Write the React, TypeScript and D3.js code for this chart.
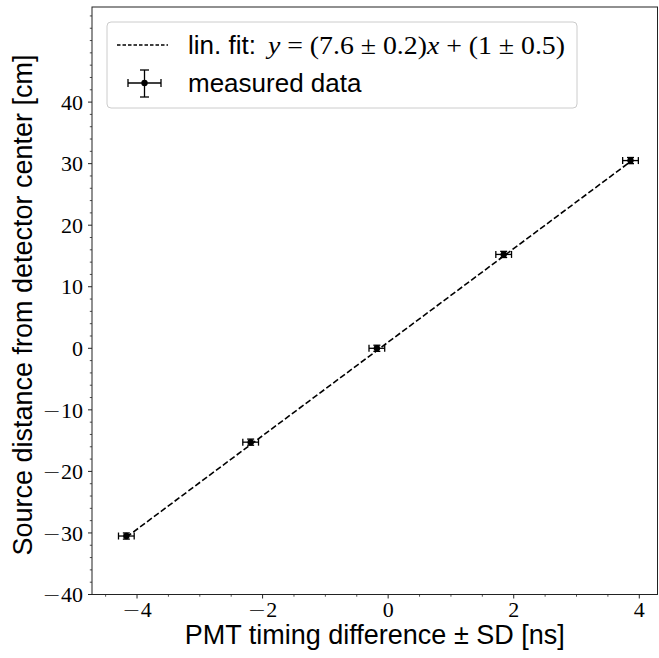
import React from "react";
import * as d3 from "d3";

// ---- data ----
const xValues = [-4.17, -2.19, -0.18, 1.84, 3.86];
const yValues = [-30.5, -15.25, 0, 15.25, 30.5];
const xErrors = [0.125, 0.125, 0.125, 0.125, 0.125];
const yErrors = [0.5, 0.5, 0.5, 0.5, 0.5];
const fitSlope = 7.6;
const fitIntercept = 1;
const xTicks = [-4, -2, 0, 2, 4];
const yTicks = [-40, -30, -20, -10, 0, 10, 20, 30, 40];
const xDomain = [-4.717, 4.29];
const yDomain = [-40, 55.45];
const xLabel = "PMT timing difference \u00b1 SD [ns]";
const yLabel = "Source distance from detector center [cm]";
const fitLabel = "lin. fit:";
const dataLabel = "measured data";

const W = 659;
const H = 658;
const M = { left: 92, right: 657.5, top: 7, bottom: 594.5 };

export default function App() {
  const x = d3.scaleLinear().domain(xDomain).range([M.left, M.right]);
  const y = d3.scaleLinear().domain(yDomain).range([M.bottom, M.top]);
  const xMinor = d3.range(-4.5, 4.3, 0.5).filter((v) => !xTicks.includes(v));
  const yMinor = d3.range(-40, 55.4, 2).filter((v) => !yTicks.includes(v));

  const xMin = d3.min(xValues)!;
  const xMax = d3.max(xValues)!;
  const line = d3
    .line<number>()
    .x((d) => x(d))
    .y((d) => y(fitSlope * d + fitIntercept));

  const tickFont = "'Liberation Serif', 'DejaVu Serif', serif";
  const sans = "'Liberation Sans', Arial, sans-serif";
  const ink = "#000";
  const cap = 3.5;

  const tickLabel = (v: number) =>
    v < 0 ? (
      <>
        <tspan fontFamily="'DejaVu Sans', sans-serif" fontWeight={300}>
          {"\u2212"}
        </tspan>
        <tspan>{String(Math.abs(v))}</tspan>
      </>
    ) : (
      String(v)
    );

  const legX = 107;
  const legY = 22;

  return (
    <svg
      width={W}
      height={H}
      style={{ position: "absolute", left: 0, top: 0, background: "#fff" }}
    >
      <rect x={0} y={0} width={W} height={H} fill="#fff" />

      {/* fit line */}
      <path
        d={line([xMin, xMax]) || ""}
        fill="none"
        stroke={ink}
        strokeWidth={1.6}
        strokeDasharray="6,2.6"
      />

      {/* error bars & points */}
      {xValues.map((xv, i) => {
        const yv = yValues[i];
        const cx = x(xv);
        const cy = y(yv);
        const x0 = x(xv - xErrors[i]);
        const x1 = x(xv + xErrors[i]);
        const y0 = y(yv - yErrors[i]);
        const y1 = y(yv + yErrors[i]);
        return (
          <g key={i} stroke={ink} strokeWidth={1.3}>
            <line x1={x0} x2={x1} y1={cy} y2={cy} />
            <line x1={x0} x2={x0} y1={cy - cap} y2={cy + cap} />
            <line x1={x1} x2={x1} y1={cy - cap} y2={cy + cap} />
            <line x1={cx} x2={cx} y1={y0} y2={y1} />
            <line x1={cx - cap} x2={cx + cap} y1={y0} y2={y0} />
            <line x1={cx - cap} x2={cx + cap} y1={y1} y2={y1} />
            <circle cx={cx} cy={cy} r={3.2} fill={ink} stroke="none" />
          </g>
        );
      })}

      {/* spines */}
      <rect
        x={M.left}
        y={M.top}
        width={M.right - M.left}
        height={M.bottom - M.top}
        fill="none"
        stroke="#222"
        strokeWidth={1}
      />

      {/* x ticks */}
      {xTicks.map((t) => (
        <g key={"xt" + t}>
          <line x1={x(t)} x2={x(t)} y1={M.bottom} y2={M.bottom + 4} stroke="#222" strokeWidth={1} />
          <text
            x={x(t)}
            y={617}
            textAnchor="middle"
            fontFamily={tickFont}
            fontSize={22}
            fill={ink}
          >
            {tickLabel(t)}
          </text>
        </g>
      ))}
      {xMinor.map((t) => (
        <line key={"xm" + t} x1={x(t)} x2={x(t)} y1={M.bottom} y2={M.bottom + 2.2} stroke="#222" strokeWidth={0.8} />
      ))}

      {/* y ticks */}
      {yTicks.map((t) => (
        <g key={"yt" + t}>
          <line x1={M.left - 4} x2={M.left} y1={y(t)} y2={y(t)} stroke="#222" strokeWidth={1} />
          <text
            x={M.left - 9}
            y={y(t)}
            dy="0.35em"
            textAnchor="end"
            fontFamily={tickFont}
            fontSize={22}
            fill={ink}
          >
            {tickLabel(t)}
          </text>
        </g>
      ))}
      {yMinor.map((t) => (
        <line key={"ym" + t} x1={M.left - 2.2} x2={M.left} y1={y(t)} y2={y(t)} stroke="#222" strokeWidth={0.8} />
      ))}

      {/* axis labels */}
      <text
        x={(M.left + M.right) / 2}
        y={644}
        textAnchor="middle"
        fontFamily={sans}
        fontSize={27}
        fill={ink}
      >
        {xLabel}
      </text>
      <text
        transform={`translate(32, 305) rotate(-90)`}
        textAnchor="middle"
        fontFamily={sans}
        fontSize={27}
        fill={ink}
      >
        {yLabel}
      </text>

      {/* legend */}
      <rect
        x={legX}
        y={legY}
        width={470}
        height={86}
        rx={4}
        fill="#fff"
        fillOpacity={0.8}
        stroke="#ccc"
        strokeWidth={1}
      />
      <line
        x1={117}
        x2={168}
        y1={45}
        y2={45}
        stroke={ink}
        strokeWidth={1.6}
        strokeDasharray="3.5,2"
      />
      <text x={188} y={54} fontFamily={sans} fontSize={26} fill={ink}>
        {fitLabel}
      </text>
      <text
        x={268}
        y={54}
        fontFamily={tickFont}
        fontSize={26}
        fill={ink}
        textLength={297}
        lengthAdjust="spacingAndGlyphs"
      >
        <tspan fontStyle="italic">y</tspan>
        {" = (7.6 \u00b1 0.2)"}
        <tspan fontStyle="italic">x</tspan>
        {" + (1 \u00b1 0.5)"}
      </text>
      <g stroke={ink} strokeWidth={1.3}>
        <line x1={128} x2={161} y1={83} y2={83} />
        <line x1={128} x2={128} y1={79} y2={87} />
        <line x1={161} x2={161} y1={79} y2={87} />
        <line x1={144.5} x2={144.5} y1={70} y2={97} />
        <line x1={140} x2={149} y1={70} y2={70} />
        <line x1={140} x2={149} y1={97} y2={97} />
        <circle cx={144.5} cy={83} r={3.2} fill={ink} stroke="none" />
      </g>
      <text x={188} y={92} fontFamily={sans} fontSize={26} fill={ink}>
        {dataLabel}
      </text>
    </svg>
  );
}
